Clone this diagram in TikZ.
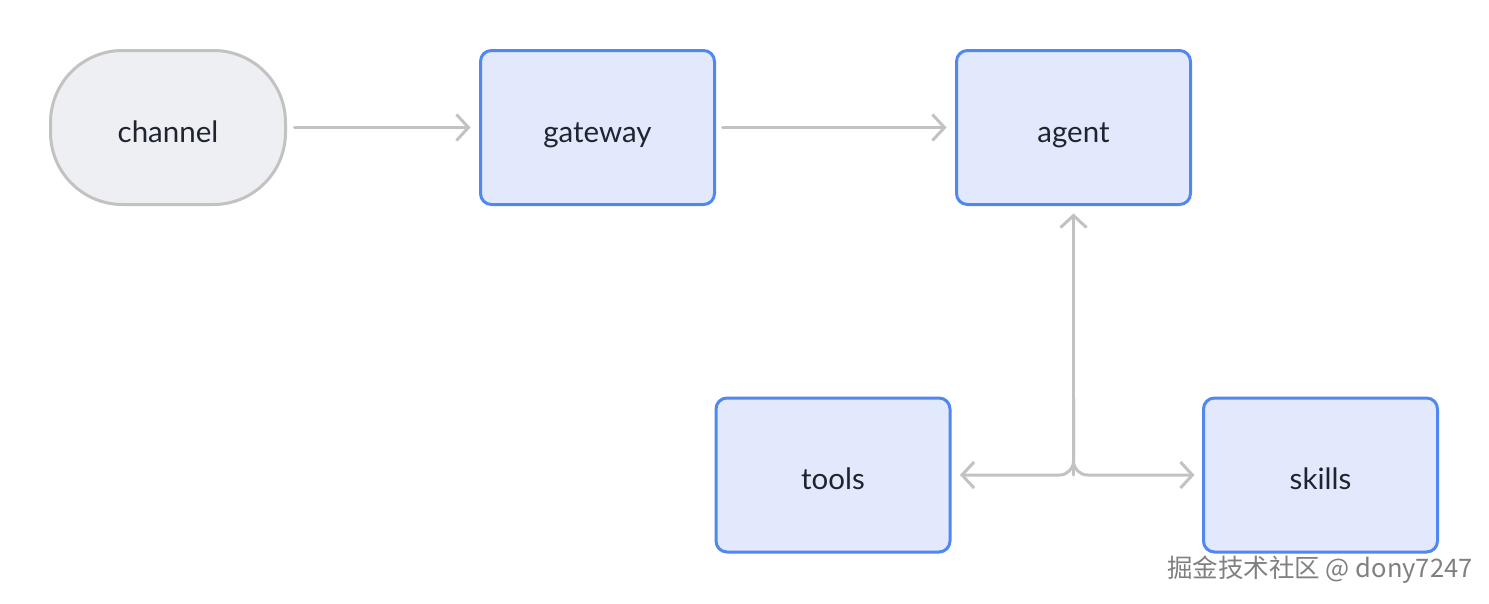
\documentclass[tikz,border=0pt]{standalone}
\usepackage{fontspec}
\setmainfont{Lato}
\newfontfamily\cjkfont{Noto Sans CJK SC}
\usetikzlibrary{arrows.meta}
\definecolor{boxfill}{HTML}{E2E9FC}
\definecolor{boxline}{HTML}{5087F0}
\definecolor{chanfill}{HTML}{EEEFF2}
\definecolor{chanline}{HTML}{C2C2C2}
\definecolor{arrcol}{HTML}{C2C2C2}
\definecolor{txtcol}{HTML}{1F2430}
\tikzset{
  procbox/.style={draw=boxline, fill=boxfill, line width=3pt, rounded corners=11pt,
    minimum width=234pt, minimum height=154pt, outer sep=0pt, inner sep=0pt,
    text height=29pt, text depth=0pt,
    font=\fontsize{29.5}{33}\selectfont, text=txtcol},
  chanbox/.style={draw=chanline, fill=chanfill, line width=3pt, rounded corners=72pt,
    minimum width=235pt, minimum height=154pt, outer sep=0pt, inner sep=0pt,
    text height=29pt, text depth=0pt,
    font=\fontsize{29.5}{33}\selectfont, text=txtcol},
  arr/.style={draw=arrcol, line width=3pt, line cap=round, line join=round,
    -{Straight Barb[length=12pt,width=26pt,line width=3pt]}}
}
\begin{document}
\begin{tikzpicture}[x=1pt,y=-1pt]
\useasboundingbox (0,0) rectangle (1489,603);
\node[chanbox] (channel) at (168,127.5) {channel};
\node[procbox] (gateway) at (597.5,127.5) {gateway};
\node[procbox] (agent) at (1073.5,127.5) {agent};
\node[procbox] (tools) at (833,475) {tools};
\node[procbox] (skills) at (1320.5,475) {skills};
\coordinate (junc) at (agent.south |- tools.east);
\coordinate (split) at (agent.south |- tools.north);
\draw[arr, shorten <=9pt, shorten >=10pt] (channel.east) -- (gateway.west);
\draw[arr, shorten <=8pt, shorten >=10pt] (gateway.east) -- (agent.west);
\draw[arr, shorten >=9pt] (junc) -- (agent.south);
\draw[arr, rounded corners=14pt, shorten >=10pt] (split) |- (tools.east);
\draw[arr, rounded corners=14pt, shorten >=9pt] (split) |- (skills.west);
\node[anchor=west, inner sep=0pt, text=black!50, font=\fontsize{25.5}{29}\selectfont] (wm) at (1167,570)
  {\cjkfont 掘金技术社区 @ dony7247};
\end{tikzpicture}
\end{document}
